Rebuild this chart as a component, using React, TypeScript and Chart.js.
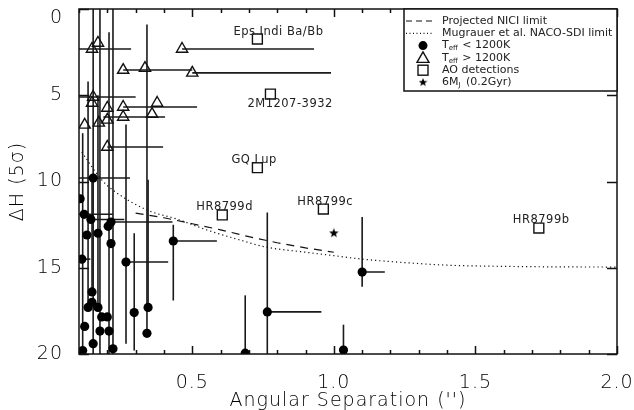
import React, { useEffect, useRef } from "react";
import { Chart, registerables } from "chart.js";

Chart.register(...registerables);

// ---- axes ----
const xMin = 0.1;
const xMax = 2.0;
const yMin = 0;
const yMax = 20;
const xTickValues = [0.5, 1.0, 1.5, 2.0];
const yTickValues = [0, 5, 10, 15, 20];
const xTickLabels = ["0.5", "1.0", "1.5", "2.0"];
const yTickLabels = ["0", "5", "10", "15", "20"];
const xTitle = "Angular Separation ('')";
const yTitle = "ΔH (5σ)";

// ---- Teff < 1200K (filled circles) ----
const coolX = [0.15, 0.104, 0.118, 0.142, 0.213, 0.203, 0.128, 0.167, 0.213, 0.433, 0.11, 0.266, 0.146, 0.146, 0.132, 0.167, 0.12, 0.18, 0.2, 0.295, 0.344, 0.174, 0.206, 0.34, 0.15, 0.22, 0.113, 0.687, 0.765, 1.1, 1.034];
const coolY = [9.8, 11.0, 11.9, 12.2, 12.35, 12.6, 13.1, 13.0, 13.6, 13.45, 14.5, 14.67, 16.4, 17.0, 17.3, 17.3, 18.4, 17.85, 17.85, 17.6, 17.3, 18.67, 18.67, 18.8, 19.4, 19.7, 19.8, 19.95, 17.56, 15.25, 19.77];
const coolXLo = [0.1, null, 0.1, null, null, null, null, null, null, null, 0.1, null, null, null, null, null, null, null, null, null, null, null, null, null, null, null, null, null, null, null, null];
const coolXHi = [0.28, null, 0.22, 0.26, 0.43, null, null, null, null, 0.587, 0.14, 0.415, null, null, null, null, null, null, null, null, null, null, null, null, null, null, null, null, 0.956, 1.18, null];
const coolYLo = [null, null, null, null, null, null, null, null, null, 12.5, null, 6.7, 10, null, 4.2, 5, null, null, null, 13, 9.9, 0, 1.35, 0.9, 0, 0, 7.2, 16.6, 11.8, 12.06, 18.3];
const coolYHi = [null, null, null, null, null, null, null, null, null, 16.9, null, 19.4, null, null, null, null, null, null, null, 19.8, null, 20, 20, null, 20, 20, 20, 20, 20, 16.1, null];

// ---- Teff > 1200K (open triangles) ----
const warmX = [0.167, 0.146, 0.464, 0.256, 0.333, 0.5, 0.15, 0.146, 0.376, 0.256, 0.2, 0.358, 0.256, 0.2, 0.17, 0.12, 0.2];
const warmY = [1.97, 2.32, 2.32, 3.54, 3.43, 3.7, 5.1, 5.45, 5.45, 5.68, 5.74, 6.09, 6.26, 6.43, 6.6, 6.72, 8.0];
const warmXLo = [null, 0.1, null, null, null, null, 0.1, null, null, null, null, null, 0.186, null, null, null, null];
const warmXHi = [null, 0.284, 0.93, 0.5, null, 0.99, 0.3, null, null, 0.517, null, null, 0.404, null, null, null, 0.397];

// ---- AO detections (open squares) ----
const aoNames = ["Eps Indi Ba/Bb", "2M1207-3932", "GQ Lup", "HR8799d", "HR8799c", "HR8799b"];
const aoX = [0.73, 0.776, 0.73, 0.606, 0.963, 1.724];
const aoY = [1.74, 4.93, 9.2, 11.94, 11.6, 12.7];

// ---- 6 MJ (0.2 Gyr) ----
const starX = [1.0];
const starY = [13.0];

// ---- detection limits ----
const niciX = [0.3, 0.4, 0.5, 0.6, 0.7, 0.8, 0.9, 1.0];
const niciY = [11.83, 12.1, 12.45, 12.8, 13.2, 13.55, 13.85, 14.1];
const nacoX = [0.11, 0.18, 0.22, 0.34, 0.45, 0.55, 0.67, 0.76, 0.9, 1.0, 1.1, 1.25, 1.4, 1.6, 1.8, 2.0];
const nacoY = [8.3, 9.9, 10.5, 11.65, 12.2, 12.8, 13.4, 13.8, 14.1, 14.3, 14.5, 14.7, 14.85, 14.92, 14.95, 14.96];

// label offsets in pixels (style)
const aoLabelOffsets = [
  [-24, -7],
  [-23, 10],
  [-26, -8],
  [-26, -8],
  [-26, -7],
  [-26, -8],
];

const LIGHT = "'DejaVu Sans Light', 'DejaVu Sans', sans-serif";
const REG = "'DejaVu Sans', sans-serif";
const FL = (size: number) => `200 ${size}px ${LIGHT}`;
const FR = (size: number) => `400 ${size}px ${REG}`;
const INK = "#111";

function pts(xs: number[], ys: number[]) {
  return xs.map((x, i) => ({ x, y: ys[i] }));
}

function makeStar(size: number) {
  const c = document.createElement("canvas");
  c.width = size;
  c.height = size;
  const g = c.getContext("2d")!;
  const cx = size / 2, cy = size / 2, R = size / 2, r = R * 0.42;
  g.beginPath();
  for (let i = 0; i < 10; i++) {
    const a = -Math.PI / 2 + (i * Math.PI) / 5;
    const rr = i % 2 === 0 ? R : r;
    g.lineTo(cx + rr * Math.cos(a), cy + rr * Math.sin(a));
  }
  g.closePath();
  g.fillStyle = "#000";
  g.fill();
  return c;
}

const starImg = makeStar(10);

const errorBarPlugin = {
  id: "errorBars",
  beforeDatasetsDraw(chart: any) {
    const { ctx, chartArea, scales } = chart;
    const xs = scales.x, ys = scales.y;
    ctx.save();
    ctx.beginPath();
    ctx.rect(chartArea.left, chartArea.top, chartArea.right - chartArea.left, chartArea.bottom - chartArea.top);
    ctx.clip();
    ctx.strokeStyle = "#1a1a1a";
    ctx.lineWidth = 1.6;
    chart.data.datasets.forEach((ds: any) => {
      const e = ds.errorBars;
      if (!e) return;
      ds.data.forEach((p: any, i: number) => {
        const px = xs.getPixelForValue(p.x);
        const py = ys.getPixelForValue(p.y);
        const xl = e.xlo?.[i] ?? p.x;
        const xh = e.xhi?.[i] ?? p.x;
        const yl = e.ylo?.[i] ?? p.y;
        const yh = e.yhi?.[i] ?? p.y;
        ctx.beginPath();
        if (xl !== xh) {
          ctx.moveTo(xs.getPixelForValue(xl), py);
          ctx.lineTo(xs.getPixelForValue(xh), py);
        }
        if (yl !== yh) {
          ctx.moveTo(px, ys.getPixelForValue(yl));
          ctx.lineTo(px, ys.getPixelForValue(yh));
        }
        ctx.stroke();
      });
    });
    ctx.restore();
  },
};

const framePlugin = {
  id: "frame",
  afterDraw(chart: any) {
    const { ctx, chartArea: a, scales } = chart;
    const xs = scales.x, ys = scales.y;
    ctx.save();
    ctx.strokeStyle = INK;
    ctx.lineWidth = 1.5;
    ctx.strokeRect(a.left, a.top, a.right - a.left, a.bottom - a.top);
    ctx.beginPath();
    for (let k = 1; k <= 20; k++) {
      const v = k / 10;
      if (v < xMin - 1e-9 || v > xMax + 1e-9) continue;
      const px = Math.round(xs.getPixelForValue(v)) + 0.5;
      const major = xTickValues.some((t) => Math.abs(t - v) < 1e-9);
      const len = major ? 8 : 4;
      ctx.moveTo(px, a.bottom);
      ctx.lineTo(px, a.bottom - len);
      ctx.moveTo(px, a.top);
      ctx.lineTo(px, a.top + len);
    }
    yTickValues.forEach((v) => {
      const py = Math.round(ys.getPixelForValue(v)) + 0.5;
      ctx.moveTo(a.left, py);
      ctx.lineTo(a.left + 10, py);
      ctx.moveTo(a.right, py);
      ctx.lineTo(a.right - 10, py);
    });
    ctx.stroke();

    // axis tick labels and titles
    ctx.fillStyle = "#000";
    ctx.font = FL(19);
    (ctx as any).letterSpacing = "1px";
    ctx.textBaseline = "middle";
    ctx.textAlign = "center";
    xTickValues.forEach((v, i) => {
      ctx.fillText(xTickLabels[i], xs.getPixelForValue(v), a.bottom + 29);
    });
    ctx.fillText(xTitle, (a.left + a.right) / 2, a.bottom + 47);
    ctx.textAlign = "right";
    yTickValues.forEach((v, i) => {
      const py = Math.max(ys.getPixelForValue(v), a.top + 9);
      ctx.fillText(yTickLabels[i], a.left - 16, py);
    });
    ctx.save();
    ctx.translate(a.left - 61, (a.top + a.bottom) / 2);
    ctx.rotate(-Math.PI / 2);
    ctx.textAlign = "center";
    ctx.fillText(yTitle, 0, 0);
    ctx.restore();

    // AO labels
    ctx.fillStyle = "#222";
    ctx.font = FR(11.5);
    (ctx as any).letterSpacing = "0.5px";
    ctx.textAlign = "left";
    ctx.textBaseline = "middle";
    aoNames.forEach((name, i) => {
      const px = xs.getPixelForValue(aoX[i]);
      const py = ys.getPixelForValue(aoY[i]);
      ctx.fillText(name, px + aoLabelOffsets[i][0], py + aoLabelOffsets[i][1]);
    });
    (ctx as any).letterSpacing = "0px";

    // legend box
    const L = a.right - 213, T = a.top, B = a.top + 82;
    ctx.fillStyle = "#fff";
    ctx.fillRect(L, T, a.right - L, B - T);
    ctx.strokeStyle = INK;
    ctx.lineWidth = 1.5;
    ctx.strokeRect(L, T, a.right - L, B - T);

    const rowY = (r: number) => T + 12 + r * 12.3;
    const symX = L + 19;
    const textX = L + 38;
    ctx.lineWidth = 1.2;
    ctx.beginPath();
    ctx.setLineDash([6, 4]);
    ctx.moveTo(L + 2, rowY(0));
    ctx.lineTo(L + 30, rowY(0));
    ctx.stroke();
    ctx.beginPath();
    ctx.setLineDash([1, 2.5]);
    ctx.moveTo(L + 2, rowY(1));
    ctx.lineTo(L + 30, rowY(1));
    ctx.stroke();
    ctx.setLineDash([]);
    ctx.beginPath();
    ctx.arc(symX, rowY(2), 4.5, 0, Math.PI * 2);
    ctx.fillStyle = "#000";
    ctx.fill();
    ctx.beginPath();
    ctx.lineWidth = 1.4;
    ctx.moveTo(symX, rowY(3) - 6);
    ctx.lineTo(symX - 6, rowY(3) + 4.5);
    ctx.lineTo(symX + 6, rowY(3) + 4.5);
    ctx.closePath();
    ctx.stroke();
    ctx.strokeRect(symX - 5, rowY(4) - 5, 10, 10);
    ctx.drawImage(starImg, symX - 4.5, rowY(5) - 4.5, 9, 9);

    ctx.fillStyle = "#222";
    ctx.font = FR(11);
    ctx.textBaseline = "middle";
    ctx.fillText("Projected NICI limit", textX, rowY(0));
    ctx.fillText("Mugrauer et al. NACO-SDI limit", textX, rowY(1));
    const teff = (r: number, rest: string) => {
      ctx.font = FR(11);
      ctx.fillText("T", textX, rowY(r));
      const w = ctx.measureText("T").width;
      ctx.font = FR(7);
      ctx.fillText("eff", textX + w, rowY(r) + 3);
      const w2 = ctx.measureText("eff").width;
      ctx.font = FR(11);
      ctx.fillText(rest, textX + w + w2 + 1, rowY(r));
    };
    teff(2, " < 1200K");
    teff(3, " > 1200K");
    ctx.fillText("AO detections", textX, rowY(4));
    ctx.font = FR(11);
    ctx.fillText("6M", textX, rowY(5));
    const w6 = ctx.measureText("6M").width;
    ctx.font = FR(7);
    ctx.fillText("J", textX + w6, rowY(5) + 3);
    ctx.font = FR(11);
    ctx.fillText(" (0.2Gyr)", textX + w6 + 4, rowY(5));
    ctx.restore();
  },
};

export default function App() {
  const ref = useRef<HTMLCanvasElement>(null);
  useEffect(() => {
    if (!ref.current) return;
    const chart = new Chart(ref.current, {
      type: "scatter",
      data: {
        datasets: [
          {
            type: "line",
            data: pts(niciX, niciY),
            borderColor: INK,
            borderWidth: 1.2,
            borderDash: [8, 6],
            pointRadius: 0,
            fill: false,
          } as any,
          {
            type: "line",
            data: pts(nacoX, nacoY),
            borderColor: INK,
            borderWidth: 1.2,
            borderDash: [1.2, 3],
            pointRadius: 0,
            fill: false,
            cubicInterpolationMode: "monotone",
          } as any,
          {
            data: pts(coolX, coolY),
            pointStyle: "circle",
            pointRadius: 4.6,
            backgroundColor: "#000",
            borderWidth: 0,
            errorBars: { xlo: coolXLo, xhi: coolXHi, ylo: coolYLo, yhi: coolYHi },
          } as any,
          {
            data: pts(warmX, warmY),
            pointStyle: "triangle",
            pointRadius: 6.5,
            backgroundColor: "rgba(255,255,255,0)",
            borderColor: INK,
            borderWidth: 1.4,
            errorBars: { xlo: warmXLo, xhi: warmXHi },
          } as any,
          {
            data: pts(aoX, aoY),
            pointStyle: "rect",
            pointRadius: 7,
            backgroundColor: "#fff",
            borderColor: INK,
            borderWidth: 1.4,
          },
          {
            data: pts(starX, starY),
            pointStyle: starImg as any,
            pointRadius: 5,
          },
        ],
      },
      options: {
        animation: false,
        responsive: false,
        maintainAspectRatio: false,
        layout: { padding: { top: 9, right: 17, left: 0, bottom: 0 } },
        plugins: { legend: { display: false }, tooltip: { enabled: false } },
        scales: {
          x: {
            type: "linear",
            min: xMin,
            max: xMax,
            afterFit: (s: any) => {
              s.height = 56;
              s.paddingLeft = 0;
              s.paddingRight = 0;
            },
            grid: { display: false, drawTicks: false },
            border: { display: false },
            ticks: { display: false },
          },
          y: {
            type: "linear",
            reverse: true,
            min: yMin,
            max: yMax,
            afterFit: (s: any) => {
              s.width = 79;
              s.paddingTop = 0;
              s.paddingBottom = 0;
            },
            grid: { display: false, drawTicks: false },
            border: { display: false },
            ticks: { display: false },
          },
        },
      },
      plugins: [errorBarPlugin, framePlugin],
    });
    return () => chart.destroy();
  }, []);
  return (
    <div style={{ position: "fixed", left: 0, top: 0, width: 634, height: 410, background: "#fff" }}>
      <canvas ref={ref} width={634} height={410} style={{ width: 634, height: 410 }} />
    </div>
  );
}
